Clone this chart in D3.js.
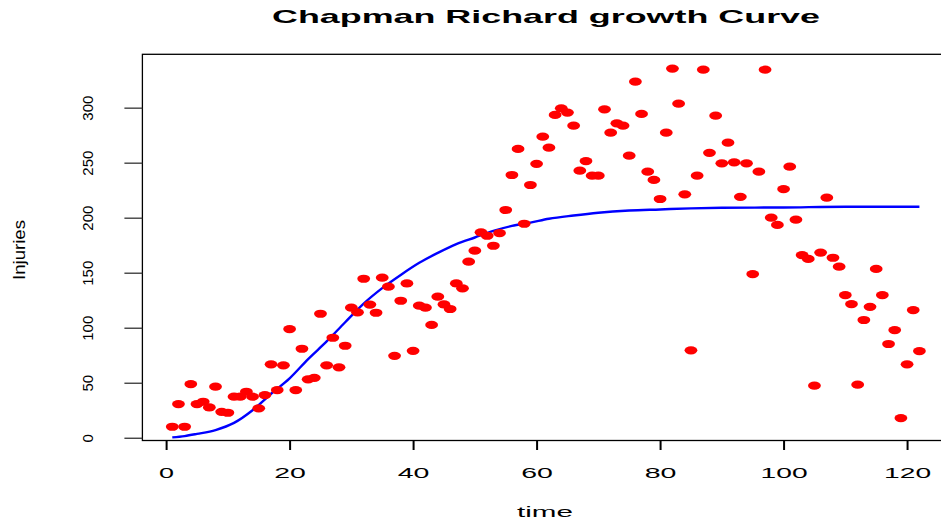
<!DOCTYPE html>
<html>
<head>
<meta charset="utf-8">
<script src="https://cdnjs.cloudflare.com/ajax/libs/d3/7.8.5/d3.min.js"></script>
<style>
  html, body { margin: 0; padding: 0; background: #fff; }
  svg { display: block; }
  text { font-family: "Liberation Sans", Arial, Helvetica, sans-serif; fill: #000; }
</style>
</head>
<body>
<svg id="chart" width="941" height="523"></svg>
<script>
// ---- data ----
const time = [1,2,3,4,5,6,7,8,9,10,11,12,13,14,15,16,17,18,19,20,
  21,22,23,24,25,26,27,28,29,30,31,32,33,34,35,36,37,38,39,40,
  41,42,43,44,45,46,47,48,49,50,51,52,53,54,55,56,57,58,59,60,
  61,62,63,64,65,66,67,68,69,70,71,72,73,74,75,76,77,78,79,80,
  81,82,83,84,85,86,87,88,89,90,91,92,93,94,95,96,97,98,99,100,
  101,102,103,104,105,106,107,108,109,110,111,112,113,114,115,116,117,118,119,120,
  121,122];
const injuries = [10,30.6,10,48.8,30.6,32.7,27.6,46.4,23.6,22.7,
  37.3,37.3,41.8,37.3,26.7,38.8,66.7,43.3,65.8,98.8,
  43.3,80.9,53.1,54.5,112.7,65.8,90.9,64,83.6,118.2,
  114,144.5,121,113.6,145.5,137.3,74.5,124.5,140.3,79,
  120,118.2,102.5,128.2,121.2,117,140.3,135.8,160,170,
  186.7,183.6,174.5,186,207,238.8,262.5,194.5,229.7,249,
  273.6,263.6,293.4,299.4,295.5,283.6,242.7,251.5,238.2,238.2,
  298.5,277.3,285.8,283.6,256.4,323.6,294.3,241.8,234.3,217,
  277.3,335.5,303.6,221.2,79.5,238.2,334.5,259,292.7,249.4,
  268.2,250.3,219,249.4,148.8,241.8,334.5,200,193.4,226,
  246.4,198.2,166,162.5,47.3,168.3,218.2,163.6,155.5,129.7,
  121.5,48.2,107,119,153.4,129.7,85.2,97.9,17.9,66.7,
  116,78.8];
// fitted Chapman-Richards curve, read at sample times
const fitTime  = [1,3,5,8,11,14,17,20,23,26,29,32,35,38,41,44,47,50,53,56,59,62,66,70,75,80,85,90,100,110,122];
const fitValue = [0.3,1.5,3.5,7,13.5,25,40,54,71.5,87.5,105,122,136,148,159,168,176,182,188,192.5,195.5,199,202,204.5,206.5,207.5,208.5,209,209.3,210,210];
const xTicks = [0,20,40,60,80,100,120];
const yTicks = [0,50,100,150,200,250,300];
const titleText = "Chapman Richard growth Curve";
const xLabel = "time";
const yLabel = "Injuries";

// ---- drawing ----
const svg = d3.select("#chart");
svg.append("rect").attr("width", 941).attr("height", 523).attr("fill", "#fff");

const x = d3.scaleLinear().domain([-3.84, 126.84]).range([142.4, 949.3]);
const y = d3.scaleLinear().domain([-2.5, 348.5]).range([440.5, 54.3]);

// frame
svg.append("rect")
  .attr("x", x.range()[0]).attr("y", y.range()[1])
  .attr("width", x.range()[1] - x.range()[0])
  .attr("height", y.range()[0] - y.range()[1])
  .attr("fill", "none").attr("stroke", "#000").attr("stroke-width", 1.3);

// x axis
const xAxis = svg.append("g")
  .attr("transform", `translate(0,${y.range()[0]})`)
  .call(d3.axisBottom(x).tickValues(xTicks).tickSize(9.5).tickFormat(d3.format("d")));
xAxis.select(".domain").remove();
xAxis.selectAll(".tick line").attr("stroke", "#000").attr("stroke-width", 2);
const xLen = {1: 15, 2: 31.7, 3: 47};
xAxis.selectAll(".tick text")
  .attr("y", 37).attr("dy", 0)
  .attr("font-size", 14.5)
  .attr("font-family", "Liberation Sans, Arial, sans-serif")
  .attr("fill", "#000")
  .attr("textLength", d => xLen[String(d).length])
  .attr("lengthAdjust", "spacingAndGlyphs");

// y axis
const yAxis = svg.append("g")
  .attr("transform", `translate(${x.range()[0]},0)`)
  .call(d3.axisLeft(y).tickValues(yTicks).tickSize(18).tickFormat(d3.format("d")));
yAxis.select(".domain").remove();
yAxis.selectAll(".tick line").attr("stroke", "#333").attr("stroke-width", 1.3);
yAxis.selectAll(".tick text")
  .attr("x", null).attr("dy", null)
  .attr("font-size", 15)
  .attr("font-family", "Liberation Sans, Arial, sans-serif")
  .attr("fill", "#000")
  .attr("text-anchor", "middle")
  .attr("transform", "translate(-49.7,0) rotate(-90)");

// fitted curve
const line = d3.line().x((d, i) => x(fitTime[i])).y(d => y(d)).curve(d3.curveMonotoneX);
svg.append("path")
  .datum(fitValue)
  .attr("d", line)
  .attr("fill", "none")
  .attr("stroke", "#0000ff")
  .attr("stroke-width", 2.4);

// points
svg.append("g").selectAll("ellipse")
  .data(injuries)
  .join("ellipse")
  .attr("cx", (d, i) => x(time[i]))
  .attr("cy", d => y(d))
  .attr("rx", 6.4).attr("ry", 4.1)
  .attr("fill", "#ff0000");

// titles
svg.append("text")
  .attr("x", 546).attr("y", 23)
  .attr("text-anchor", "middle")
  .attr("font-size", 19).attr("font-weight", "bold")
  .attr("textLength", 548).attr("lengthAdjust", "spacingAndGlyphs")
  .text(titleText);

svg.append("text")
  .attr("x", 545).attr("y", 516.5)
  .attr("text-anchor", "middle")
  .attr("font-size", 15.5)
  .attr("textLength", 56).attr("lengthAdjust", "spacingAndGlyphs")
  .text(xLabel);

svg.append("text")
  .attr("transform", "translate(25,250) rotate(-90)")
  .attr("text-anchor", "middle")
  .attr("font-size", 16)
  .attr("textLength", 60).attr("lengthAdjust", "spacingAndGlyphs")
  .text(yLabel);
</script>
</body>
</html>
